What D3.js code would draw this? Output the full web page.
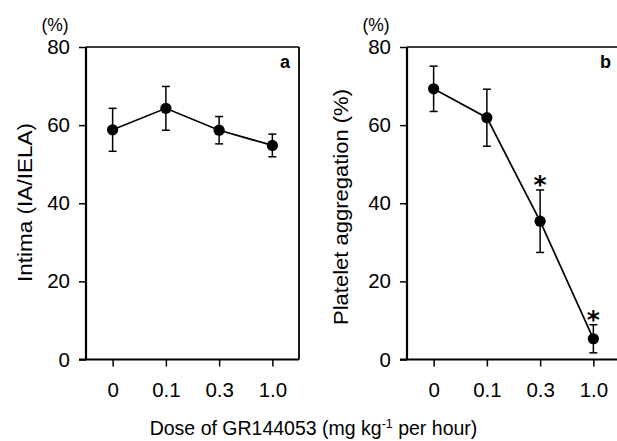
<!DOCTYPE html>
<html>
<head>
<meta charset="utf-8">
<script src="https://cdn.jsdelivr.net/npm/d3@7"></script>
<style>
  html, body { margin: 0; padding: 0; background: #fff; }
  svg { display: block; }
  text { font-family: "Liberation Sans", Arial, sans-serif; fill: #000; }
</style>
</head>
<body>
<svg id="chart" width="617" height="441"></svg>
<script>
// ---- data ----
const doses = ["0", "0.1", "0.3", "1.0"];
const yTicks = [0, 20, 40, 60, 80];
const intimaMean = [58.8, 64.3, 58.7, 54.8];
const intimaErr = [5.5, 5.6, 3.5, 2.9];
const aggMean = [69.3, 61.9, 35.4, 5.3];
const aggErr = [5.8, 7.3, 8.0, 3.6];
const aggSig = [false, false, true, true];
const panelLetters = ["a", "b"];
const yTitles = ["Intima (IA/IELA)", "Platelet aggregation (%)"];

const svg = d3.select("#chart");
const plotTop = 47, plotBottom = 359.5, pw = 213;
const TICK_FS = 20.5, TITLE_FS = 19.5;

const y = d3.scaleLinear().domain([0, 80]).range([plotBottom, plotTop]);

function panel(opt) {
  const { left, means, errs, sig, letter, ytitle, extendRight, titleOffset, titleLen, titleCenter } = opt;
  const g = svg.append("g").attr("transform", `translate(${left},0)`);
  const x = d3.scalePoint().domain(doses).range([0, pw]).padding(0.5);

  // frame
  g.append("line").attr("x1", 0).attr("x2", extendRight).attr("y1", plotTop).attr("y2", plotTop)
    .attr("stroke", "#000").attr("stroke-width", 1.6);
  g.append("line").attr("x1", 0).attr("x2", 0).attr("y1", plotTop).attr("y2", plotBottom)
    .attr("stroke", "#000").attr("stroke-width", 2.2);
  g.append("line").attr("x1", -7).attr("x2", extendRight).attr("y1", plotBottom).attr("y2", plotBottom)
    .attr("stroke", "#000").attr("stroke-width", 2.2);
  if (extendRight <= pw) {
    g.append("line").attr("x1", pw).attr("x2", pw).attr("y1", plotTop).attr("y2", plotBottom)
      .attr("stroke", "#000").attr("stroke-width", 1.8);
  }

  // y axis
  const ya = g.append("g").call(d3.axisLeft(y).tickValues(yTicks).tickSize(7).tickPadding(9)
    .tickFormat(d3.format("d")));
  ya.select(".domain").remove();
  ya.selectAll(".tick line").attr("stroke", "#000").attr("stroke-width", 1.5);
  ya.selectAll(".tick text").style("font-size", TICK_FS + "px")
    .style("font-family", '"Liberation Sans", Arial, sans-serif').attr("fill", "#000");

  // x axis
  const xa = g.append("g").attr("transform", `translate(0,${plotBottom})`)
    .call(d3.axisBottom(x).tickSize(7).tickPadding(16));
  xa.select(".domain").remove();
  xa.selectAll(".tick line").attr("stroke", "#000").attr("stroke-width", 1.5);
  xa.selectAll(".tick text").style("font-size", TICK_FS + "px")
    .style("font-family", '"Liberation Sans", Arial, sans-serif').attr("fill", "#000");

  // (%) label
  g.append("text").attr("x", -31).attr("y", 31).attr("text-anchor", "middle")
    .style("font-size", "17.5px").text("(%)");

  // y title
  g.append("text").attr("transform", `translate(${-titleOffset},${titleCenter}) rotate(-90)`)
    .attr("text-anchor", "middle").style("font-size", TITLE_FS + "px")
    .attr("textLength", titleLen).attr("lengthAdjust", "spacingAndGlyphs")
    .text(ytitle);

  // panel letter
  g.append("text").attr("x", pw - 9).attr("y", 68).attr("text-anchor", "end")
    .style("font-size", "18px").style("font-weight", "bold").text(letter);

  // error bars
  const eb = g.append("g").attr("stroke", "#000").attr("stroke-width", 1.5);
  doses.forEach((d, i) => {
    const cx = x(d);
    const yt = y(means[i] + errs[i]), yb = y(means[i] - errs[i]);
    eb.append("line").attr("x1", cx).attr("x2", cx).attr("y1", yt).attr("y2", yb);
    eb.append("line").attr("x1", cx - 4).attr("x2", cx + 4).attr("y1", yt).attr("y2", yt);
    eb.append("line").attr("x1", cx - 4).attr("x2", cx + 4).attr("y1", yb).attr("y2", yb);
  });

  // line
  g.append("path").datum(means)
    .attr("d", d3.line().x((v, i) => x(doses[i])).y(v => y(v)))
    .attr("fill", "none").attr("stroke", "#000").attr("stroke-width", 1.7);

  // points
  g.selectAll("circle.pt").data(means).enter().append("circle")
    .attr("cx", (v, i) => x(doses[i])).attr("cy", v => y(v)).attr("r", 5.6).attr("fill", "#000");

  // significance
  if (sig) {
    const afs = 25;
    doses.forEach((d, i) => {
      if (sig[i]) {
        g.append("text").attr("x", x(d)).attr("y", y(means[i] + errs[i]) - 11 + 0.575 * afs)
          .attr("text-anchor", "middle")
          .style("font-family", '"DejaVu Sans", sans-serif')
          .style("font-size", afs + "px").style("font-weight", "bold")
          .text("*");
      }
    });
  }
}

panel({ left: 86, means: intimaMean, errs: intimaErr, sig: null, letter: panelLetters[0],
  ytitle: yTitles[0], extendRight: pw, titleOffset: 54, titleLen: 159, titleCenter: 202.5 });
panel({ left: 407, means: aggMean, errs: aggErr, sig: aggSig, letter: panelLetters[1],
  ytitle: yTitles[1], extendRight: 220, titleOffset: 59, titleLen: 236, titleCenter: 207 });

// x title
const xt = svg.append("text").attr("x", 313.5).attr("y", 435).attr("text-anchor", "middle")
  .style("font-size", TITLE_FS + "px");
xt.append("tspan").text("Dose of GR144053 (mg kg");
xt.append("tspan").attr("dy", -7).style("font-size", "12.5px").text("-1");
xt.append("tspan").attr("dy", 7).text(" per hour)");
</script>
</body>
</html>
